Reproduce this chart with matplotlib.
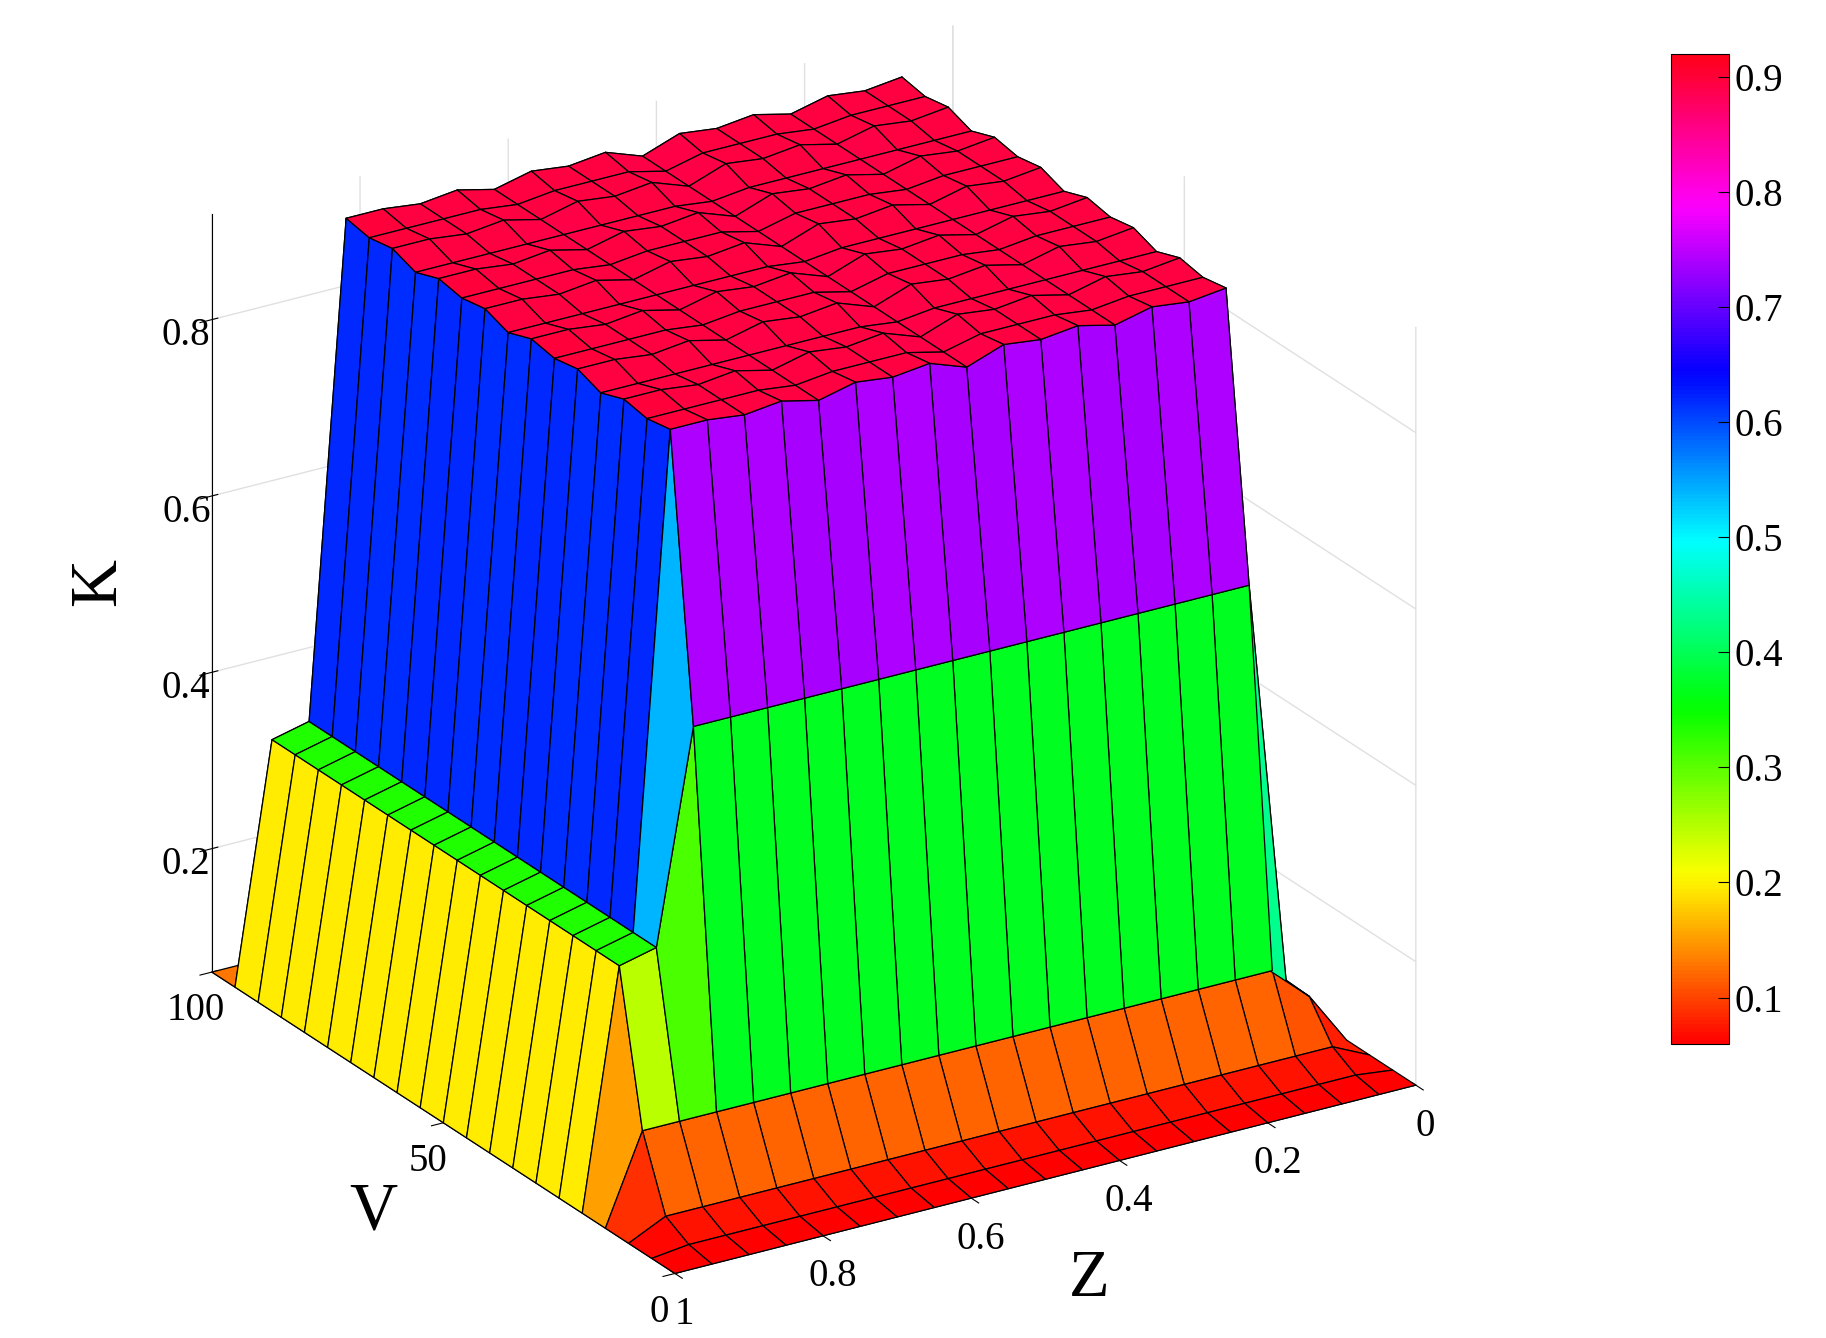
import numpy as np
import matplotlib
matplotlib.use("Agg")
import matplotlib.pyplot as plt
from matplotlib import cm, colors

plt.rcParams['font.family'] = ['Liberation Serif', 'DejaVu Serif']

# grid
v_vals = [0, 5, 10, 15, 20, 25, 30, 35, 40, 45, 50, 55, 60, 65, 70, 75, 80, 85, 90, 95, 100]
z_vals = [0, 0.05, 0.1, 0.15, 0.2, 0.25, 0.3, 0.35, 0.4, 0.45, 0.5, 0.55, 0.6, 0.65, 0.7,
          0.75, 0.8, 0.85, 0.9, 0.95, 1.0]
# K profile along V (front -> back)
k_v = [0.06, 0.065, 0.08, 0.16, 0.58, 0.9, 0.895, 0.9, 0.89, 0.9, 0.895, 0.9, 0.89, 0.9,
       0.895, 0.9, 0.89, 0.9, 0.895, 0.9, 0.06]
# K profile along Z (0 -> 1)
k_z = [0.06, 0.12, 0.9, 0.895, 0.9, 0.89, 0.9, 0.895, 0.9, 0.885, 0.9, 0.895, 0.9, 0.89,
       0.9, 0.895, 0.9, 0.9, 0.34, 0.33, 0.06]

V, Z = np.meshgrid(v_vals, z_vals, indexing='ij')
K = np.minimum(np.array(k_v)[:, None], np.array(k_z)[None, :])
# face colour from mean of the four corners
Kf = (K[:-1, :-1] + K[1:, :-1] + K[:-1, 1:] + K[1:, 1:]) / 4
norm = colors.Normalize(0.06, 0.92)
fc = np.zeros(K.shape + (4,))
fc[:-1, :-1] = cm.hsv(norm(Kf))

fig = plt.figure(figsize=(18.26, 13.38), dpi=100)
ax = fig.add_axes([-0.04, -0.04, 0.95, 1.08], projection='3d', proj_type='ortho')
ax.plot_surface(V, Z, K, facecolors=fc, edgecolor='black', linewidth=0.9,
                shade=False, rstride=1, cstride=1, antialiased=True)
ax.view_init(elev=24, azim=148)
ax.set_box_aspect((1, 1, 0.95))
ax.set_xlim(0, 100)
ax.set_ylim(0, 1)
ax.set_zlim(0.06, 0.92)
ax.set_xticks([0, 50, 100])
ax.set_yticks([0, 0.2, 0.4, 0.6, 0.8, 1])
ax.set_yticklabels(['0', '0.2', '0.4', '0.6', '0.8', '1'])
ax.set_zticks([0.2, 0.4, 0.6, 0.8])
ax.zaxis.set_ticks_position('upper')
ax.zaxis.set_label_position('upper')
for a in (ax.xaxis, ax.yaxis, ax.zaxis):
    a.pane.fill = False
    a.pane.set_edgecolor('white')
    a._axinfo['grid']['color'] = (0.88, 0.88, 0.88, 1)
    a._axinfo['grid']['linewidth'] = 1.0
ax.tick_params(labelsize=28)
ax.set_xlabel('V', fontsize=48, labelpad=30)
ax.set_ylabel('Z', fontsize=48, labelpad=30)
ax.zaxis.set_rotate_label(False)
ax.set_zlabel('K', fontsize=48, labelpad=30, rotation=90)

cax = fig.add_axes([0.915, 0.22, 0.032, 0.74])
cb = fig.colorbar(cm.ScalarMappable(norm=norm, cmap='hsv'), cax=cax)
cb.set_ticks([0.1, 0.2, 0.3, 0.4, 0.5, 0.6, 0.7, 0.8, 0.9])
cb.ax.tick_params(labelsize=28, direction='in', length=8)

fig.savefig('out.png', dpi=100)
